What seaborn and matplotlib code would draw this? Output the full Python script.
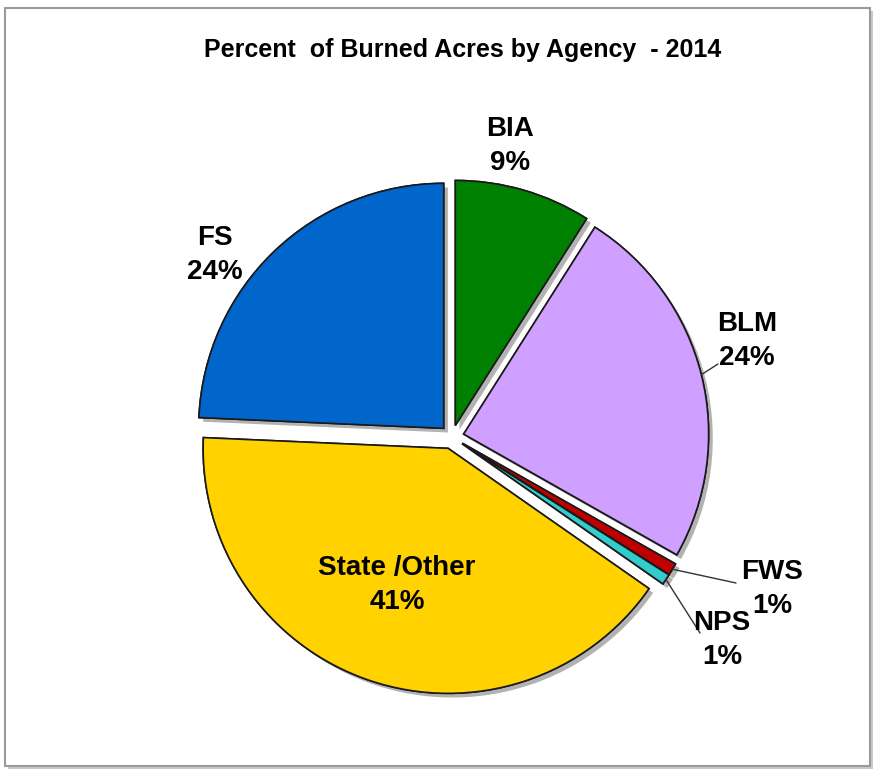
import numpy as np
import matplotlib
matplotlib.use("Agg")
import matplotlib.pyplot as plt
import matplotlib.patheffects as pe
from matplotlib.patches import Rectangle
import seaborn as sns

# DATA
agencies = ["BIA", "BLM", "FWS", "NPS", "State /Other", "FS"]
percents = [9.0, 24.2, 0.8, 0.7, 41.0, 24.3]
shown = ["9%", "24%", "1%", "1%", "41%", "24%"]
colors = ["#008000", "#CFA0FF", "#C00000", "#33CCCC", "#FFD200", "#0066CC"]

# LAYOUT (pixels, image coords: y down)
W, H = 875, 771
center = (452, 437)
radius = 245
gap = 12
label_pos = [(510, 146), (747, 341), (772, 589), (722, 640), (397, 585), (215, 255)]
leader_end = [None, (718, 364), (736, 583), (700, 633), None, None]

sns.set_theme(style="white")
plt.rcParams["font.family"] = ["Liberation Sans", "DejaVu Sans"]
plt.rcParams["text.color"] = "black"

fig = plt.figure(figsize=(W / 100, H / 100), dpi=100)
ax = fig.add_axes([0, 0, 1, 1])
ax.set_xlim(0, W)
ax.set_ylim(0, H)

# FRAME
frame = Rectangle((5, H - 766), 865, 758, facecolor="white", edgecolor="#9a9a9a",
                  lw=1.5, zorder=0,
                  path_effects=[pe.withSimplePatchShadow(offset=(2, -2), shadow_rgbFace="#bbbbbb", alpha=0.8)])
ax.add_patch(frame)

cx, cy = center[0], H - center[1]
wedges, _ = ax.pie(percents, colors=colors, startangle=90, counterclock=False,
                   radius=radius, center=(cx, cy), explode=[gap] * len(percents),
                   wedgeprops=dict(edgecolor="#1a1a1a", linewidth=1.2))
for w in wedges:
    w.set_path_effects([pe.withSimplePatchShadow(offset=(3, -3), shadow_rgbFace="#555555", alpha=0.45),
                        pe.Normal()])
    w.set_zorder(2)
ax.set_xlim(0, W)
ax.set_ylim(0, H)
ax.set_aspect("equal")
ax.axis("off")

# LABELS
for i, w in enumerate(wedges):
    lx, ly = label_pos[i]
    ax.text(lx, H - ly, agencies[i] + "\n" + shown[i], ha="center", va="center",
            fontsize=20, fontweight="bold", linespacing=1.38, color="black", zorder=5)
    if leader_end[i] is not None:
        mid = np.deg2rad((w.theta1 + w.theta2) / 2)
        wx, wy = w.center
        sx = wx + radius * np.cos(mid)
        sy = wy + radius * np.sin(mid)
        ex, ey = leader_end[i]
        ax.plot([sx, ex], [sy, H - ey], color="#333333", lw=1, zorder=4)

ax.text(W / 2 + 25, H - 50, "Percent  of Burned Acres by Agency  - 2014", ha="center",
        va="center", fontsize=18, fontweight="bold", color="black")

fig.savefig("out.png", dpi=100)
